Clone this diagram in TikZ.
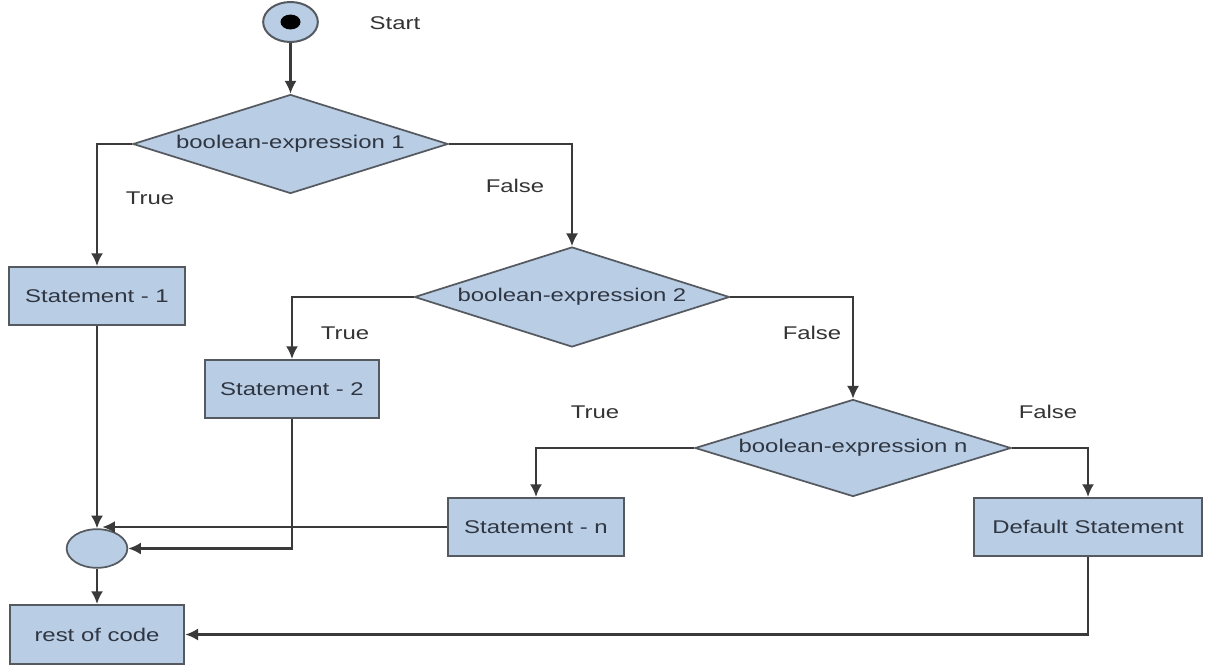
\documentclass[tikz,border=0pt]{standalone}
\usepackage{fontspec}
\setmainfont{Liberation Sans}[FakeStretch=1.3]
\usetikzlibrary{shapes.geometric,arrows.meta}
\definecolor{boxfill}{HTML}{B9CDE5}
\definecolor{boxline}{HTML}{555A60}
\definecolor{wire}{HTML}{3A3A3A}
\definecolor{ink}{HTML}{2F3642}
\tikzset{
  every node/.style={font=\fontsize{13.8pt}{15pt}\selectfont, text=ink},
  stmt/.style={draw=boxline, line width=1.5pt, fill=boxfill, rectangle,
    minimum height=43.5pt, inner sep=0pt},
  cond/.style={draw=boxline, line width=1.3pt, fill=boxfill, diamond, aspect=3,
    inner sep=0pt, minimum width=236.25pt},
  arr/.style={draw=wire, line width=1.6pt, -{Latex[length=9.5pt,width=9pt]}},
  lab/.style={text=black!80}
}
\begin{document}
\begin{tikzpicture}[x=0.75pt,y=-0.75pt]
\useasboundingbox (0,0) rectangle (1209,667);

% start marker
\node[ellipse, draw=boxline, line width=1.5pt, fill=boxfill, minimum width=41pt, minimum height=30pt, inner sep=0pt] (start) at (290.5,22) {};
\fill[black] (start.center) ellipse (7.5pt and 5.6pt);
\node[lab] (starttxt) at (395,23) {Start};

% decisions
\node[cond, minimum height=74.25pt] (d1) at (290.5,144) {boolean-expression 1};
\node[cond, minimum height=75pt] (d2) at (572,297) {boolean-expression 2};
\node[cond, minimum height=72.75pt, minimum width=237pt] (dn) at (853,448) {boolean-expression n};

% statements
\node[stmt, minimum width=131.5pt] (s1) at (97,296) {Statement - 1};
\node[stmt, minimum width=130.5pt] (s2) at (292,389) {Statement - 2};
\node[stmt, minimum width=132pt] (sn) at (536,527) {Statement - n};
\node[stmt, minimum width=171pt] (def) at (1088,527) {Default Statement};
\node[stmt, minimum width=131pt, minimum height=44.25pt] (rest) at (97,634.5) {rest of code};

% merge point
\node[ellipse, draw=boxline, line width=1.3pt, fill=boxfill, minimum width=45.5pt, minimum height=29pt, inner sep=0pt] (m) at (97,548.5) {};

% branch labels
\node[lab] (t1) at (150,198) {True};
\node[lab] (f1) at (515,186) {False};
\node[lab] (t2) at (345,333) {True};
\node[lab] (f2) at (812,333) {False};
\node[lab] (tn) at (595,412) {True};
\node[lab] (fn) at (1048,412) {False};

% connectors
\draw[arr] (start) -- (d1);
\draw[arr] (d1.west) -| (s1);
\draw[arr] (d1.east) -| (d2);
\draw[arr] (d2.west) -| (s2);
\draw[arr] (d2.east) -| (dn);
\draw[arr] (dn.west) -| (sn);
\draw[arr] (dn.east) -| (def);
\draw[arr] (s1) -- (m);
\draw[arr] (sn.west) -- (sn.west -| m.75);
\draw[arr] (s2.south) |- (m.east);
\draw[arr] (m) -- (rest);
\draw[arr] (def.south) |- (rest.east);
\end{tikzpicture}
\end{document}
